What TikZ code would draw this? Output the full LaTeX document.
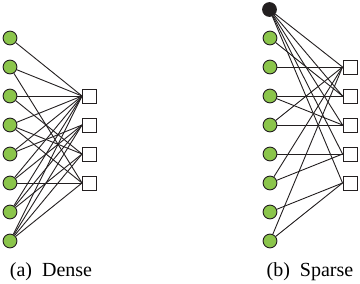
\documentclass[tikz,border=0pt]{standalone}
\usepackage{fontspec}
\setmainfont{Liberation Serif}
\definecolor{vargreen}{RGB}{139,197,75}
\definecolor{ink}{RGB}{35,31,32}
\tikzset{
  var/.style={circle, draw=ink, fill=vargreen, minimum size=13.8pt, inner sep=0pt, line width=0.9pt},
  densevar/.style={var, fill=ink},
  chk/.style={rectangle, draw=ink, fill=white, minimum size=14pt, inner sep=0pt, line width=0.9pt},
  edge/.style={draw=ink, line width=0.9pt},
  caption/.style={font=\fontsize{20}{24}\selectfont, inner sep=0pt}
}
\begin{document}
\begin{tikzpicture}[x=1pt, y=-1pt]
  \useasboundingbox (0,0) rectangle (360,284);

  % (a) dense graph
  \foreach \i in {1,...,8}
    \node[var] (a\i) at (10,{38+29*(\i-1)}) {};
  \foreach \j in {1,...,4}
    \node[chk] (p\j) at (89.5,{96+29*(\j-1)}) {};
  \foreach \i/\j in {1/1, 2/1, 2/4, 3/1, 3/3, 4/1, 4/3, 4/4, 5/1, 5/2,
                     6/1, 6/2, 6/4, 7/1, 7/2, 7/3, 8/1, 8/2, 8/3, 8/4}
    \draw[edge] (a\i) -- (p\j.west);

  % (b) sparse graph, with one dense column
  \node[densevar] (b0) at (269.5,9.5) {};
  \foreach \i in {1,...,8}
    \node[var] (b\i) at (270,{38+29*(\i-1)}) {};
  \foreach \j in {1,...,5}
    \node[chk] (q\j) at (350,{67+29*(\j-1)}) {};
  \foreach \j in {1,...,5}
    \draw[edge] (b0) -- (q\j.west);
  \foreach \i/\j in {1/2, 2/1, 3/2, 3/3, 4/1, 4/3, 5/4,
                     6/1, 6/4, 7/5, 8/1, 8/5}
    \draw[edge] (b\i) -- (q\j.west);

  \node[caption] (capa) at (51,272) {(a)\ \ Dense};
  \node[caption] (capb) at (310,272) {(b)\ \ Sparse};
\end{tikzpicture}
\end{document}
